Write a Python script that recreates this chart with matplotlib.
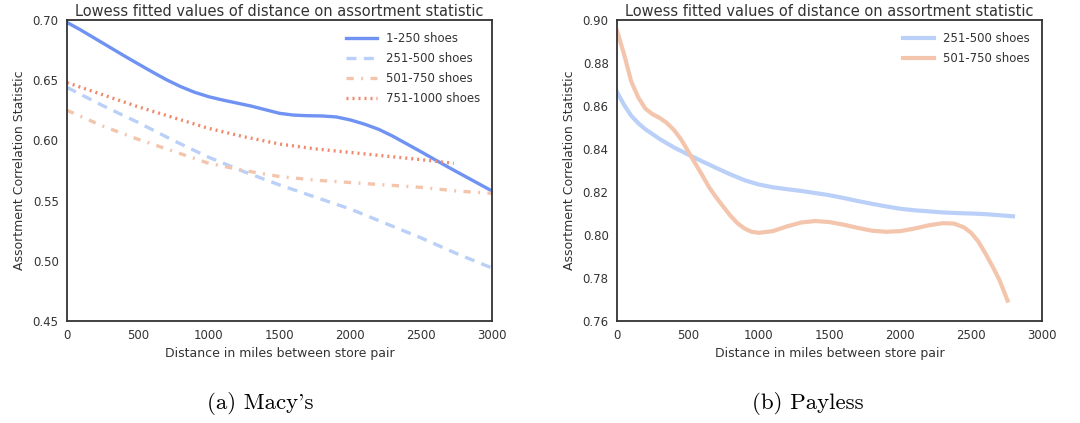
import matplotlib
matplotlib.use("Agg")
import matplotlib.pyplot as plt

# ---------------- Data ----------------
macys_x_1_250 = [0, 100, 200, 300, 400, 500, 600, 700, 800, 900, 1000, 1100, 1200, 1300, 1400, 1500,
                 1600, 1700, 1800, 1900, 2000, 2100, 2200, 2300, 2400, 2500, 2600, 2700, 2800, 2900, 3000]
macys_y_1_250 = [0.698, 0.6915, 0.6845, 0.6775, 0.6705, 0.6637, 0.657, 0.6505, 0.6448, 0.640, 0.6363,
                 0.6335, 0.631, 0.6285, 0.6255, 0.6225, 0.621, 0.6205, 0.6203, 0.6195, 0.617, 0.6135,
                 0.6092, 0.6035, 0.597, 0.5905, 0.5838, 0.5772, 0.5708, 0.5644, 0.558]

macys_x_251_500 = [0, 250, 500, 750, 1000, 1250, 1500, 1750, 2000, 2250, 2500, 2750, 3000]
macys_y_251_500 = [0.644, 0.629, 0.615, 0.600, 0.586, 0.574, 0.563, 0.553, 0.543, 0.531, 0.519, 0.506, 0.494]

macys_x_501_750 = [0, 250, 500, 750, 1000, 1250, 1500, 1750, 2000, 2250, 2500, 2750, 3000]
macys_y_501_750 = [0.625, 0.612, 0.601, 0.591, 0.581, 0.575, 0.570, 0.567, 0.565, 0.563, 0.561, 0.558, 0.556]

macys_x_751_1000 = [0, 250, 500, 750, 1000, 1250, 1500, 1750, 2000, 2250, 2500, 2730]
macys_y_751_1000 = [0.648, 0.638, 0.628, 0.619, 0.610, 0.603, 0.597, 0.593, 0.590, 0.587, 0.584, 0.581]

payless_x_251_500 = [0, 25, 50, 100, 150, 200, 300, 400, 500, 600, 700, 800, 900, 1000, 1100, 1200, 1300,
                     1400, 1500, 1600, 1700, 1800, 1900, 2000, 2100, 2200, 2300, 2400, 2500, 2600, 2700, 2795]
payless_y_251_500 = [0.8665, 0.8635, 0.8605, 0.8555, 0.852, 0.8492, 0.8447, 0.8408, 0.8375, 0.8343, 0.8312,
                     0.8282, 0.8255, 0.8235, 0.8222, 0.8213, 0.8205, 0.8195, 0.8185, 0.8172, 0.8158,
                     0.8145, 0.8133, 0.8122, 0.8115, 0.811, 0.8105, 0.8102, 0.810, 0.8097, 0.8092, 0.8087]

payless_x_501_750 = [0, 50, 100, 150, 200, 250, 300, 350, 400, 450, 500, 550, 600, 650, 700, 750, 800, 850,
                     900, 950, 1000, 1100, 1200, 1300, 1400, 1500, 1600, 1700, 1800, 1900, 2000, 2100,
                     2200, 2300, 2380, 2450, 2500, 2550, 2600, 2650, 2700, 2757]
payless_y_501_750 = [0.895, 0.884, 0.8715, 0.864, 0.8588, 0.8562, 0.8545, 0.8522, 0.849, 0.8447, 0.8392,
                     0.8335, 0.828, 0.8222, 0.8175, 0.8132, 0.809, 0.8055, 0.803, 0.8015, 0.801, 0.8018,
                     0.804, 0.8058, 0.8065, 0.806, 0.8048, 0.8033, 0.802, 0.8015, 0.8018, 0.803, 0.8045,
                     0.8055, 0.8053, 0.8035, 0.801, 0.797, 0.7915, 0.7855, 0.779, 0.7695]

x_ticks = [0, 500, 1000, 1500, 2000, 2500, 3000]
macys_yticks = [0.45, 0.50, 0.55, 0.60, 0.65, 0.70]
payless_yticks = [0.76, 0.78, 0.80, 0.82, 0.84, 0.86, 0.88, 0.90]

title = "Lowess fitted values of distance on assortment statistic"
xlabel = "Distance in miles between store pair"
ylabel = "Assortment Correlation Statistic"

c1 = "#6f92f3"
c2 = "#bad0f8"
c3 = "#f4c5ad"
c4 = "#ef8a6d"

plt.rcParams['font.family'] = ['DejaVu Sans']
TXT = "#333333"

fig = plt.figure(figsize=(10.8, 4.23), dpi=100)
W, H = 1080, 423
ax1 = fig.add_axes([67 / W, 1 - 321 / H, (492 - 67) / W, (321 - 20) / H])
ax2 = fig.add_axes([617 / W, 1 - 321 / H, (1042 - 617) / W, (321 - 20) / H])

ax1.plot(macys_x_1_250, macys_y_1_250, color=c1, lw=2.4, ls='-', label='1-250 shoes')
ax1.plot(macys_x_251_500, macys_y_251_500, color=c2, lw=2.4, ls=(0, (3, 2.2)), label='251-500 shoes')
ax1.plot(macys_x_501_750, macys_y_501_750, color=c3, lw=2.4, ls=(0, (2.2, 2.2, 0.6, 2.2)), label='501-750 shoes')
ax1.plot(macys_x_751_1000, macys_y_751_1000, color=c4, lw=2.4, ls=(0, (0.6, 1.2)), label='751-1000 shoes')
ax1.set_xlim(0, 3000)
ax1.set_ylim(0.45, 0.70)
ax1.set_yticks(macys_yticks)
ax1.set_yticklabels([f"{v:.2f}" for v in macys_yticks])

ax2.plot(payless_x_251_500, payless_y_251_500, color=c2, lw=3.0, label='251-500 shoes')
ax2.plot(payless_x_501_750, payless_y_501_750, color=c3, lw=3.0, label='501-750 shoes')
ax2.set_xlim(0, 3000)
ax2.set_ylim(0.76, 0.90)
ax2.set_yticks(payless_yticks)
ax2.set_yticklabels([f"{v:.2f}" for v in payless_yticks])

for ax in (ax1, ax2):
    ax.set_xticks(x_ticks)
    ax.set_xticklabels([str(v) for v in x_ticks])
    ax.tick_params(length=0, labelsize=8.5, colors=TXT, pad=6)
    for s in ax.spines.values():
        s.set_color("#333333")
        s.set_linewidth(1.3)
    ax.set_title(title, fontsize=10.5, color=TXT, pad=3)
    ax.set_xlabel(xlabel, fontsize=9, color=TXT, labelpad=3)
    ax.set_ylabel(ylabel, fontsize=9, color=TXT, labelpad=5)
    leg = ax.legend(loc='upper right', frameon=False, fontsize=8.5, handlelength=2.6,
                    labelspacing=0.6, borderaxespad=0.6)
    for t in leg.get_texts():
        t.set_color(TXT)

fig.text(260 / W, 1 - 403 / H, "(a) Macy's", ha='center', va='center', fontsize=16.5,
         family=['cmr10', 'DejaVu Serif'])
fig.text(808 / W, 1 - 403 / H, "(b) Payless", ha='center', va='center', fontsize=16.5,
         family=['cmr10', 'DejaVu Serif'])

fig.savefig("out.png", dpi=100)
